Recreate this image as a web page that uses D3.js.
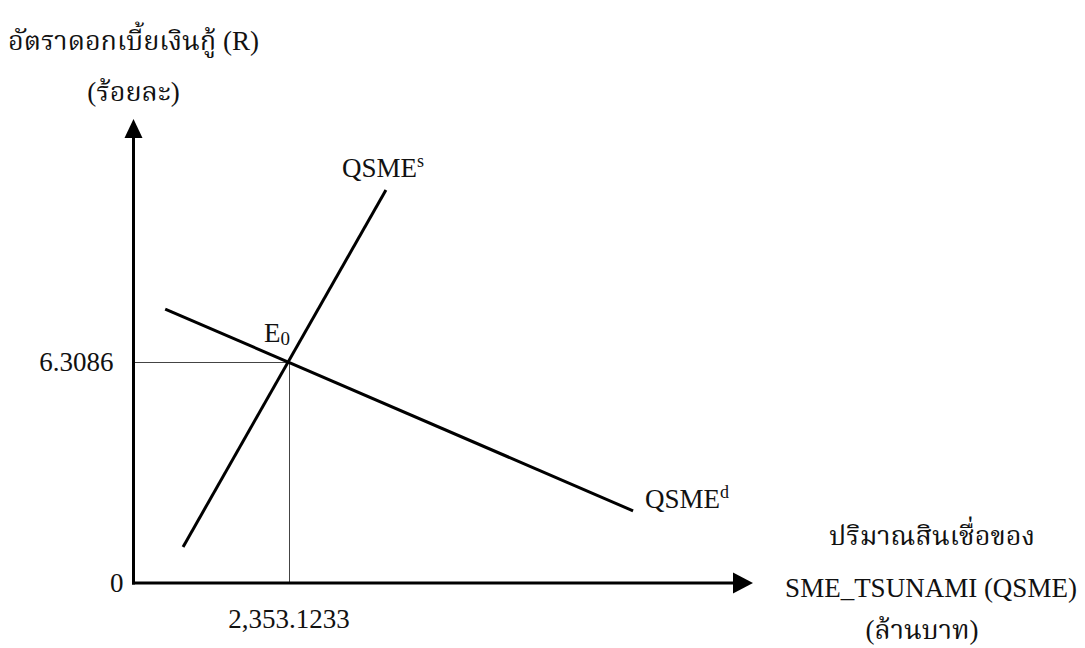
<!DOCTYPE html>
<html>
<head>
<meta charset="utf-8">
<script src="https://cdn.jsdelivr.net/npm/d3@7"></script>
<style>
  html, body { margin: 0; padding: 0; background: #fff; }
  svg text { font-family: "Liberation Serif", "Noto Serif Thai", "Noto Sans Thai", "Times New Roman", serif; fill: #111; }
</style>
</head>
<body>
<svg id="chart" width="1085" height="648"></svg>
<script>
// ---- data ----
const equilibrium = { q: 2353.1233, r: 6.3086 };
const supplyLine = [ { q: 750, r: 1.03 }, { q: 3820, r: 11.22 } ];
const demandLine = [ { q: 480, r: 7.82 }, { q: 7560, r: 2.06 } ];
const xTickValues = [2353.1233];
const xTickLabels = ["2,353.1233"];
const yTickValues = [0, 6.3086];
const yTickLabels = ["0", "6.3086"];
const yTitleLines = ["อัตราดอกเบี้ยเงินกู้ (R)", "(ร้อยละ)"];
const xTitleLines = ["ปริมาณสินเชื่อของ", "SME_TSUNAMI (QSME)", "(ล้านบาท)"];
const xMax = 9375, yMax = 13.245;

// ---- scales ----
const svg = d3.select("#chart");
const x = d3.scaleLinear().domain([0, xMax]).range([133.5, 753]);
const y = d3.scaleLinear().domain([0, yMax]).range([583, 119]);
const FS = 27;

// ---- guide lines (thin) ----
svg.append("line")
  .attr("x1", x(0)).attr("x2", x(equilibrium.q))
  .attr("y1", Math.round(y(equilibrium.r)) + 0.5).attr("y2", Math.round(y(equilibrium.r)) + 0.5)
  .attr("stroke", "#444").attr("stroke-width", 1);
svg.append("line")
  .attr("x1", Math.round(x(equilibrium.q)) + 0.5).attr("x2", Math.round(x(equilibrium.q)) + 0.5)
  .attr("y1", y(equilibrium.r)).attr("y2", y(0))
  .attr("stroke", "#444").attr("stroke-width", 1);

// ---- axes with arrowheads ----
const axisG = svg.append("g");
axisG.append("line")
  .attr("x1", x(0) - 1.5).attr("x2", x(xMax) - 18)
  .attr("y1", y(0)).attr("y2", y(0))
  .attr("stroke", "#000").attr("stroke-width", 3);
axisG.append("line")
  .attr("x1", x(0)).attr("x2", x(0))
  .attr("y1", y(0) + 1.5).attr("y2", y(yMax) + 17)
  .attr("stroke", "#000").attr("stroke-width", 3);
axisG.append("path")
  .attr("d", `M${x(xMax)},${y(0)} L${x(xMax) - 20},${y(0) - 10.5} L${x(xMax) - 20},${y(0) + 10.5} Z`)
  .attr("fill", "#000");
axisG.append("path")
  .attr("d", `M${x(0)},${y(yMax)} L${x(0) - 9},${y(yMax) + 19} L${x(0) + 9},${y(yMax) + 19} Z`)
  .attr("fill", "#000");

// ---- supply & demand lines ----
const lineGen = d3.line().x(d => x(d.q)).y(d => y(d.r));
svg.append("path").datum(supplyLine).attr("d", lineGen)
  .attr("fill", "none").attr("stroke", "#000").attr("stroke-width", 3);
svg.append("path").datum(demandLine).attr("d", lineGen)
  .attr("fill", "none").attr("stroke", "#000").attr("stroke-width", 3);

// ---- tick labels ----
const yPads = [10, 20];
svg.selectAll("text.ytick").data(yTickValues).enter().append("text")
  .attr("class", "ytick")
  .attr("x", (d, i) => x(0) - yPads[i])
  .attr("y", d => y(d))
  .attr("dy", "0.32em")
  .attr("text-anchor", "end")
  .attr("font-size", FS)
  .text((d, i) => yTickLabels[i]);
svg.selectAll("text.xtick").data(xTickValues).enter().append("text")
  .attr("class", "xtick")
  .attr("x", d => x(d))
  .attr("y", y(0) + 45)
  .attr("text-anchor", "middle")
  .attr("font-size", FS)
  .text((d, i) => xTickLabels[i]);

// ---- axis titles ----
const yTitleY = [50, 101];
svg.selectAll("text.ytitle").data(yTitleLines).enter().append("text")
  .attr("class", "ytitle")
  .attr("x", x(0))
  .attr("y", (d, i) => yTitleY[i])
  .attr("text-anchor", "middle")
  .attr("font-size", FS)
  .text(d => d);
const xTitlePos = [ [932, 545], [931, 597], [922, 639] ];
svg.selectAll("text.xtitle").data(xTitleLines).enter().append("text")
  .attr("class", "xtitle")
  .attr("x", (d, i) => xTitlePos[i][0])
  .attr("y", (d, i) => xTitlePos[i][1])
  .attr("text-anchor", "middle")
  .attr("font-size", FS)
  .text(d => d);

// ---- curve labels ----
function labelWithScript(xp, yp, main, script, dy) {
  const t = svg.append("text").attr("x", xp).attr("y", yp).attr("font-size", FS);
  t.append("tspan").text(main);
  t.append("tspan").attr("font-size", dy < 0 ? 18 : 19).attr("dy", dy).text(script);
  return t;
}
const sEnd = supplyLine[supplyLine.length - 1];
const dEnd = demandLine[demandLine.length - 1];
labelWithScript(x(sEnd.q) - 44, y(sEnd.r) - 13, "QSME", "s", -10);
labelWithScript(x(dEnd.q) + 12, y(dEnd.r) - 3, "QSME", "d", -10);
labelWithScript(x(equilibrium.q) - 25, y(equilibrium.r) - 20, "E", "0", 3);
</script>
</body>
</html>
